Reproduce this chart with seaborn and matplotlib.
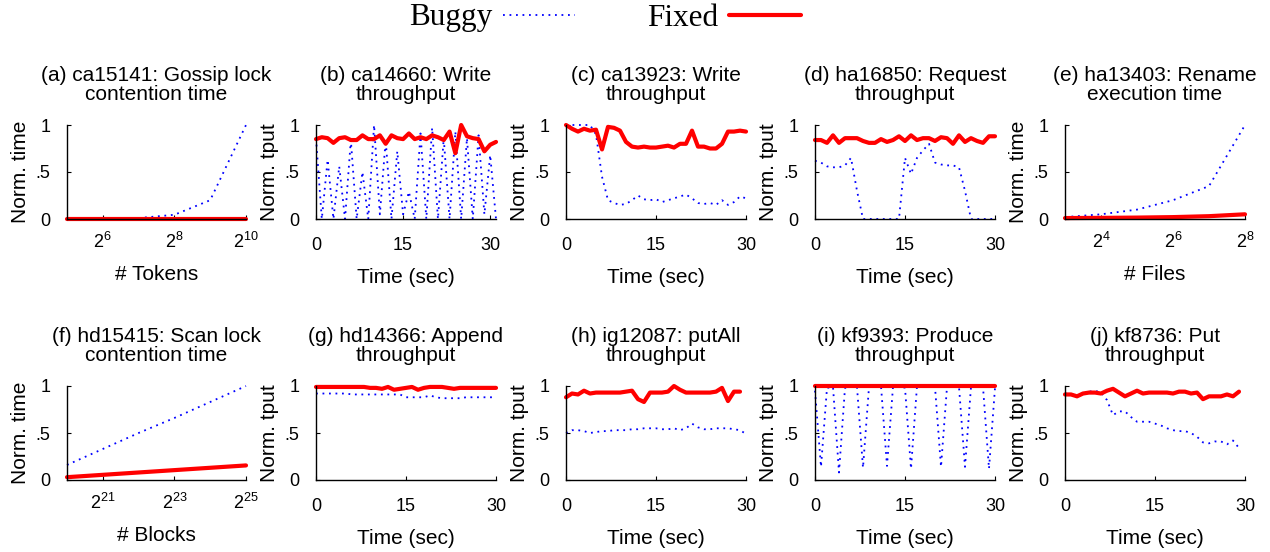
import numpy as np
import pandas as pd
import seaborn as sns
import matplotlib
matplotlib.use("Agg")
import matplotlib.pyplot as plt
from matplotlib.lines import Line2D
from matplotlib.ticker import NullLocator

# # Data
# log-scale panels
a_x = [2**5, 2**6, 2**7, 2**8, 2**9, 2**10]
a_buggy = [0.0, 0.002, 0.01, 0.045, 0.2, 1.0]
a_fixed = [0.005, 0.005, 0.005, 0.005, 0.005, 0.005]

e_x = [2**3, 2**4, 2**5, 2**6, 2**7, 2**8]
e_buggy = [0.02, 0.05, 0.1, 0.2, 0.35, 1.0]
e_fixed = [0.01, 0.012, 0.015, 0.02, 0.03, 0.05]

f_x = [2**20, 2**21, 2**22, 2**23, 2**24, 2**25]
f_buggy = [0.16, 0.33, 0.5, 0.66, 0.83, 1.0]
f_fixed = [0.03, 0.055, 0.08, 0.105, 0.13, 0.155]

# time panels (one point per second)
b_buggy = [0.86, 0.0, 0.63, 0.0, 0.56, 0.0, 0.84, 0.0, 0.50, 0.0, 1.0, 0.05, 0.84, 0.0, 0.72, 0.05,
           0.29, 0.0, 0.91, 0.0, 0.97, 0.0, 0.86, 0.0, 0.93, 0.0, 0.86, 0.0, 0.89, 0.05, 0.68, 0.0]
b_fixed = [0.85, 0.87, 0.86, 0.81, 0.86, 0.87, 0.84, 0.84, 0.89, 0.85, 0.85, 0.89, 0.80, 0.89, 0.86, 0.85,
           0.91, 0.85, 0.87, 0.85, 0.89, 0.87, 0.84, 0.93, 0.70, 1.0, 0.88, 0.86, 0.85, 0.72, 0.79, 0.82]

c_buggy = [1.0, 1.0, 1.0, 1.0, 1.0, 0.9, 0.45, 0.2, 0.17, 0.15, 0.16, 0.2, 0.25, 0.21, 0.2, 0.21,
           0.18, 0.2, 0.22, 0.24, 0.26, 0.22, 0.17, 0.16, 0.17, 0.15, 0.2, 0.15, 0.18, 0.24, 0.22]
c_fixed = [1.0, 0.96, 0.93, 0.96, 0.94, 0.95, 0.74, 0.98, 0.97, 0.94, 0.82, 0.77, 0.76, 0.77, 0.76, 0.76,
           0.77, 0.78, 0.76, 0.8, 0.8, 0.94, 0.77, 0.77, 0.75, 0.75, 0.8, 0.93, 0.93, 0.94, 0.93]

d_buggy = [0.62, 0.6, 0.56, 0.55, 0.55, 0.57, 0.65, 0.3, 0.0, 0.0, 0.0, 0.0, 0.0, 0.0, 0.0, 0.65,
           0.48, 0.65, 0.73, 0.8, 0.6, 0.58, 0.57, 0.57, 0.55, 0.3, 0.0, 0.0, 0.0, 0.0, 0.0]
d_fixed = [0.84, 0.84, 0.81, 0.89, 0.81, 0.86, 0.86, 0.86, 0.83, 0.81, 0.81, 0.85, 0.82, 0.84, 0.88, 0.83,
           0.89, 0.84, 0.86, 0.86, 0.83, 0.87, 0.86, 0.80, 0.89, 0.82, 0.86, 0.83, 0.81, 0.88, 0.88]

g_buggy = [0.92, 0.92, 0.92, 0.92, 0.92, 0.92, 0.91, 0.91, 0.91, 0.91, 0.91, 0.91, 0.91, 0.91, 0.91, 0.88,
           0.88, 0.88, 0.88, 0.9, 0.88, 0.87, 0.87, 0.87, 0.87, 0.88, 0.88, 0.88, 0.88, 0.88, 0.88]
g_fixed = [0.99, 0.99, 0.99, 0.99, 0.99, 0.99, 0.99, 0.99, 0.99, 0.98, 0.98, 0.97, 0.99, 0.96, 0.97, 0.98,
           0.99, 0.96, 0.98, 0.99, 0.99, 0.99, 0.98, 0.97, 0.98, 0.98, 0.98, 0.98, 0.98, 0.98, 0.98]

h_buggy = [0.5, 0.53, 0.53, 0.52, 0.5, 0.51, 0.52, 0.52, 0.53, 0.53, 0.53, 0.54, 0.54, 0.55, 0.55, 0.55,
           0.54, 0.54, 0.55, 0.53, 0.55, 0.6, 0.56, 0.54, 0.54, 0.55, 0.55, 0.55, 0.54, 0.53, 0.49]
h_fixed = [0.88, 0.92, 0.91, 0.95, 0.92, 0.93, 0.93, 0.93, 0.93, 0.93, 0.94, 0.95, 0.86, 0.83, 0.93,
           0.93, 0.93, 0.94, 1.0, 0.96, 0.93, 0.93, 0.93, 0.93, 0.93, 0.94, 0.98, 0.84, 0.94, 0.94]

i_buggy = [0.95, 0.14, 0.98, 0.99, 0.08, 0.98, 1.0, 0.99, 0.13, 0.99, 1.0, 1.0, 0.15, 0.99, 1.0, 0.98,
           0.12, 1.0, 1.0, 0.99, 0.99, 0.14, 0.99, 1.0, 0.99, 0.14, 0.99, 1.0, 0.99, 0.12, 0.98]
i_fixed = [1.0] * 31

j_buggy = [0.92, 0.91, 0.89, 0.92, 0.94, 0.95, 0.93, 0.85, 0.69, 0.73, 0.73, 0.67, 0.62, 0.62, 0.62,
           0.6, 0.58, 0.55, 0.53, 0.52, 0.52, 0.5, 0.46, 0.4, 0.39, 0.41, 0.41, 0.38, 0.42, 0.34]
j_fixed = [0.91, 0.91, 0.89, 0.92, 0.93, 0.93, 0.92, 0.95, 0.97, 0.93, 0.89, 0.92, 0.95, 0.92, 0.93,
           0.93, 0.93, 0.93, 0.92, 0.94, 0.94, 0.92, 0.93, 0.86, 0.89, 0.89, 0.89, 0.91, 0.89, 0.94]

titles = ["(a) ca15141: Gossip lock\ncontention time", "(b) ca14660: Write\nthroughput",
          "(c) ca13923: Write\nthroughput", "(d) ha16850: Request\nthroughput",
          "(e) ha13403: Rename\nexecution time", "(f) hd15415: Scan lock\ncontention time",
          "(g) hd14366: Append\nthroughput", "(h) ig12087: putAll\nthroughput",
          "(i) kf9393: Produce\nthroughput", "(j) kf8736: Put\nthroughput"]

a_ticks = [2**6, 2**8, 2**10]
a_ticklabels = ["$2^{6}$", "$2^{8}$", "$2^{10}$"]
e_ticks = [2**4, 2**6, 2**8]
e_ticklabels = ["$2^{4}$", "$2^{6}$", "$2^{8}$"]
f_ticks = [2**21, 2**23, 2**25]
f_ticklabels = ["$2^{21}$", "$2^{23}$", "$2^{25}$"]
time_ticks = [0, 15, 30]

# # Style
sns.set_style("ticks")
plt.rcParams['font.family'] = ['Liberation Sans', 'DejaVu Sans']
plt.rcParams['mathtext.default'] = 'regular'
for k in ['text.color', 'axes.labelcolor', 'xtick.color', 'ytick.color']:
    plt.rcParams[k] = 'black'
BLUE = "#0000ff"
RED = "#ff0000"

fig = plt.figure(figsize=(12.7, 5.52), dpi=100)
W, H = 1270, 552
lefts = [67, 316, 566, 815, 1065]
rights = [246, 496, 746, 995, 1245]
tops = [125, 386]
axh = 94


def make_ax(row, col):
    l, r = lefts[col], rights[col]
    return fig.add_axes([l / W, (H - tops[row] - axh) / H, (r - l) / W, axh / H])


def draw(ax, x, buggy, fixed, xb=None):
    if xb is None:
        xb = x
    sns.lineplot(x=xb, y=buggy, ax=ax, color=BLUE, lw=1.3, linestyle=(0, (1, 2.6)), clip_on=False)
    sns.lineplot(x=x[:len(fixed)], y=fixed, ax=ax, color=RED, lw=3, clip_on=False)


def style(ax, title, ylabel, xlabel, logx=False):
    sns.despine(ax=ax)
    for s in ["left", "bottom"]:
        ax.spines[s].set_linewidth(1.0)
        ax.spines[s].set_color("black")
    ax.set_ylim(0, 1)
    ax.set_yticks([0, 0.5, 1])
    ax.set_yticklabels(["0", ".5", "1"])
    ax.tick_params(axis="both", direction="in", length=3, width=0.8, labelsize=13, color="black")
    ax.tick_params(axis="y", pad=12)
    ax.tick_params(axis="x", pad=9 if logx else 13)
    ax.set_title(title, fontsize=15, pad=18, linespacing=1.0)
    ax.set_ylabel(ylabel, fontsize=15, labelpad=4)
    ax.set_xlabel(xlabel, fontsize=15, labelpad=10)


t = list(range(32))

# (a)
ax = make_ax(0, 0)
draw(ax, a_x, a_buggy, a_fixed)
ax.set_xscale("log", base=2)
ax.set_xlim(2**5, 2**10)
ax.set_xticks(a_ticks)
ax.set_xticklabels(a_ticklabels)
ax.xaxis.set_minor_locator(NullLocator())
style(ax, titles[0], "Norm. time", "# Tokens", logx=True)

# (b)
ax = make_ax(0, 1)
draw(ax, t, b_buggy, b_fixed, xb=t[:len(b_buggy)])
ax.set_xlim(0, 31)
ax.set_xticks(time_ticks)
style(ax, titles[1], "Norm. tput", "Time (sec)")

# (c), (d)
for col, (bug, fix, ttl) in zip([2, 3], [(c_buggy, c_fixed, titles[2]), (d_buggy, d_fixed, titles[3])]):
    ax = make_ax(0, col)
    draw(ax, t, bug, fix, xb=t[:len(bug)])
    ax.set_xlim(0, 30)
    ax.set_xticks(time_ticks)
    style(ax, ttl, "Norm. tput", "Time (sec)")

# (e)
ax = make_ax(0, 4)
draw(ax, e_x, e_buggy, e_fixed)
ax.set_xscale("log", base=2)
ax.set_xlim(2**3, 2**8)
ax.set_xticks(e_ticks)
ax.set_xticklabels(e_ticklabels)
ax.xaxis.set_minor_locator(NullLocator())
style(ax, titles[4], "Norm. time", "# Files", logx=True)

# (f)
ax = make_ax(1, 0)
draw(ax, f_x, f_buggy, f_fixed)
ax.set_xscale("log", base=2)
ax.set_xlim(2**20, 2**25)
ax.set_xticks(f_ticks)
ax.set_xticklabels(f_ticklabels)
ax.xaxis.set_minor_locator(NullLocator())
style(ax, titles[5], "Norm. time", "# Blocks", logx=True)

# (g) - (j)
bottom = [(g_buggy, g_fixed), (h_buggy, h_fixed), (i_buggy, i_fixed), (j_buggy, j_fixed)]
for k, (bug, fix) in enumerate(bottom):
    ax = make_ax(1, k + 1)
    draw(ax, t, bug, fix, xb=t[:len(bug)])
    ax.set_xlim(0, 30)
    ax.set_xticks(time_ticks)
    style(ax, titles[6 + k], "Norm. tput", "Time (sec)")

# # Legend on top
handles = [Line2D([], [], color=BLUE, lw=1.3, linestyle=(0, (1, 2.6))),
           Line2D([], [], color=RED, lw=3)]
fig.legend(handles, ["Buggy", "Fixed"], loc="center", bbox_to_anchor=(605 / W, 1 - 18 / H),
           ncol=2, frameon=False, markerfirst=False, handlelength=2.3, handletextpad=0.35,
           columnspacing=2.3, borderaxespad=0, prop={"family": "Liberation Serif", "size": 22.5})

fig.savefig("out.png", dpi=100)
